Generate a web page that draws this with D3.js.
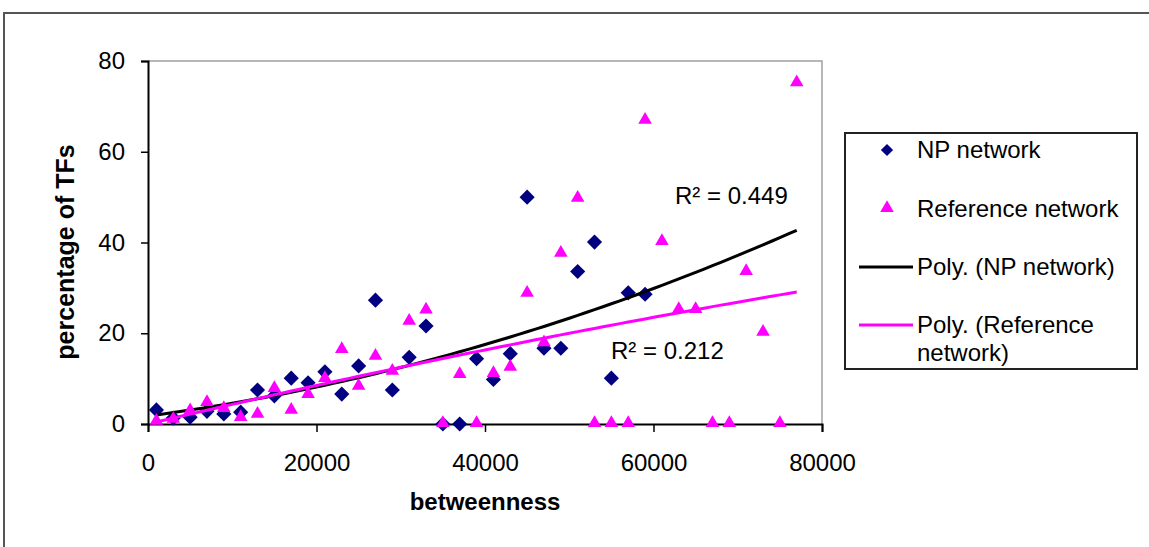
<!DOCTYPE html>
<html>
<head>
<meta charset="utf-8">
<script src="https://cdn.jsdelivr.net/npm/d3@7"></script>
<style>
  body { margin: 0; background: #fff; }
  text { font-family: "Liberation Sans", Arial, sans-serif; fill: #000; }
</style>
</head>
<body>
<div id="chart"></div>
<script>
// betweenness bins (x) and percentage of TFs (y)
var npX = [1000, 3000, 5000, 7000, 9000, 11000, 13000, 15000, 17000, 19000, 21000, 23000, 25000, 27000, 29000,
           31000, 33000, 35000, 37000, 39000, 41000, 43000, 45000, 47000, 49000, 51000, 53000, 55000, 57000, 59000];
var npY = [3.1, 1.3, 1.5, 2.8, 2.2, 2.6, 7.5, 6.2, 10.1, 9.1, 11.5, 6.6, 12.8, 27.3, 7.5,
           14.7, 21.6, 0, 0, 14.4, 9.8, 15.5, 50, 16.7, 16.7, 33.6, 40.1, 10.1, 28.9, 28.6];

var refX = [1000, 3000, 5000, 7000, 9000, 11000, 13000, 15000, 17000, 19000, 21000, 23000, 25000, 27000, 29000,
            31000, 33000, 35000, 37000, 39000, 41000, 43000, 45000, 47000, 49000, 51000, 53000, 55000, 57000, 59000,
            61000, 63000, 65000, 67000, 69000, 71000, 73000, 75000, 77000];
var refY = [0.5, 0.9, 2.8, 4.6, 3.3, 1.3, 2, 7.7, 2.9, 6.4, 9.9, 16.3, 8.2, 14.8, 11.5,
            22.5, 25, 0, 10.8, 0, 11, 12.4, 28.7, 17.8, 37.5, 49.6, 0, 0, 0, 66.8,
            40.1, 25.1, 25.1, 0, 0, 33.5, 20.1, 0, 75.1];

// 2nd order trendline coefficients (x in units of 10000)
var npTrend = [1.75, 2.452, 0.3722];
var refTrend = [0, 4.409, -0.0819];
var trendRange = [1000, 77000];

var xTicks = [0, 20000, 40000, 60000, 80000];
var yTicks = [0, 20, 40, 60, 80];

var legendItems = ["NP network", "Reference network", "Poly. (NP network)", "Poly. (Reference|network)"];
var r2Labels = ["R\u00b2 = 0.449", "R\u00b2 = 0.212"];

var width = 1149, height = 547;
var navy = "#000080", pink = "#ff00ff";

var svg = d3.select("#chart").append("svg")
    .attr("width", width)
    .attr("height", height);

// outer chart border (clipped by the picture on the right and bottom)
svg.append("rect")
    .attr("x", 4).attr("y", 13)
    .attr("width", 1160).attr("height", 560)
    .attr("fill", "none")
    .attr("stroke", "#555")
    .attr("stroke-width", 2);

var x = d3.scaleLinear().domain([0, 80000]).range([148, 822]);
var y = d3.scaleLinear().domain([0, 80]).range([424, 61]);

// plot area border
svg.append("path")
    .attr("d", "M" + x(0) + "," + y(80) + "H" + x(80000) + "V" + y(0))
    .attr("fill", "none")
    .attr("stroke", "#a0a0a0")
    .attr("stroke-width", 1.5);

// axes
var xAxis = svg.append("g")
    .attr("transform", "translate(0," + y(0) + ")")
    .call(d3.axisBottom(x).tickValues(xTicks).tickSize(8).tickPadding(39).tickFormat(d3.format("d")));
var yAxis = svg.append("g")
    .attr("transform", "translate(" + x(0) + ",0)")
    .call(d3.axisLeft(y).tickValues(yTicks).tickSize(7).tickPadding(16));

[xAxis, yAxis].forEach(function(g) {
    g.select(".domain").attr("stroke", "#000").attr("stroke-width", 2);
    g.selectAll(".tick line").attr("stroke", "#000").attr("stroke-width", 1.5);
    g.selectAll(".tick text").style("font-size", "24px").attr("fill", "#000")
        .style("font-family", "'Liberation Sans', Arial, sans-serif");
});
xAxis.selectAll(".tick text").attr("dy", "0");

// axis titles
svg.append("text")
    .attr("x", (x(0) + x(80000)) / 2)
    .attr("y", 510)
    .attr("text-anchor", "middle")
    .style("font-size", "24px")
    .style("font-weight", "bold")
    .text("betweenness");

svg.append("text")
    .attr("transform", "translate(74,252) rotate(-90)")
    .attr("text-anchor", "middle")
    .style("font-size", "25px")
    .style("font-weight", "bold")
    .text("percentage of TFs");

// symbols: diamond is a square turned 45 degrees
var diamond = d3.symbol().type(d3.symbolSquare).size(115);
var triangle = d3.symbol().type(d3.symbolTriangle).size(80);

function poly(c) {
    return function(v) { var t = v / 10000; return c[0] + c[1] * t + c[2] * t * t; };
}

// NP points
svg.append("g").selectAll("path")
    .data(npX.map(function(d, i) { return [d, npY[i]]; }))
    .join("path")
    .attr("d", diamond)
    .attr("transform", function(d) { return "translate(" + x(d[0]) + "," + y(d[1]) + ") rotate(45)"; })
    .attr("fill", navy);

// trendlines
var line = d3.line().x(function(d) { return x(d[0]); }).y(function(d) { return y(d[1]); });
var steps = d3.range(trendRange[0], trendRange[1] + 1, 1000);

svg.append("path")
    .datum(steps.map(function(v) { return [v, poly(npTrend)(v)]; }))
    .attr("d", line)
    .attr("fill", "none")
    .attr("stroke", "#000")
    .attr("stroke-width", 3);

// reference points
svg.append("g").selectAll("path")
    .data(refX.map(function(d, i) { return [d, refY[i]]; }))
    .join("path")
    .attr("d", triangle)
    .attr("transform", function(d) { return "translate(" + x(d[0]) + "," + (y(d[1]) - 1) + ")"; })
    .attr("fill", pink);

svg.append("path")
    .datum(steps.map(function(v) { return [v, poly(refTrend)(v)]; }))
    .attr("d", line)
    .attr("fill", "none")
    .attr("stroke", pink)
    .attr("stroke-width", 3);

// R squared labels
svg.append("text").attr("x", 675).attr("y", 204).style("font-size", "24px").text(r2Labels[0]);
svg.append("text").attr("x", 611).attr("y", 359).style("font-size", "24px").text(r2Labels[1]);

// legend
var legend = svg.append("g");
legend.append("rect")
    .attr("x", 845).attr("y", 133)
    .attr("width", 292).attr("height", 236)
    .attr("fill", "#fff")
    .attr("stroke", "#222")
    .attr("stroke-width", 2);

var legendY = [150, 209, 267, 325];

legend.append("path").attr("d", d3.symbol().type(d3.symbolSquare).size(75))
    .attr("transform", "translate(887," + legendY[0] + ") rotate(45)")
    .attr("fill", navy);
legend.append("path").attr("d", triangle)
    .attr("transform", "translate(887," + (legendY[1] - 1) + ")")
    .attr("fill", pink);
legend.append("line")
    .attr("x1", 859).attr("x2", 913)
    .attr("y1", legendY[2]).attr("y2", legendY[2])
    .attr("stroke", "#000").attr("stroke-width", 3);
legend.append("line")
    .attr("x1", 859).attr("x2", 913)
    .attr("y1", legendY[3]).attr("y2", legendY[3])
    .attr("stroke", pink).attr("stroke-width", 3);

legendItems.forEach(function(label, i) {
    var t = legend.append("text")
        .attr("x", 917)
        .attr("y", legendY[i] + 8)
        .style("font-size", "24px");
    label.split("|").forEach(function(part, j) {
        t.append("tspan").attr("x", 917).attr("dy", j === 0 ? 0 : 28).text(part);
    });
});
</script>
</body>
</html>
